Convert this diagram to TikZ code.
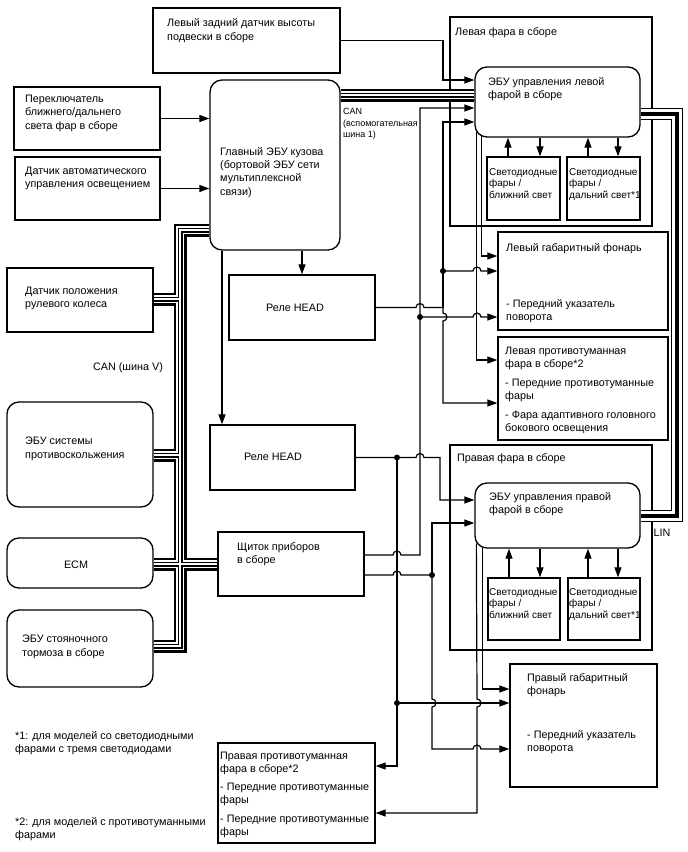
\documentclass[tikz,border=0pt]{standalone}
\usepackage{fontspec}
\setmainfont{Liberation Sans}
\usetikzlibrary{arrows.meta,fit}
\pgfdeclarelayer{bg}
\pgfdeclarelayer{bus}
\pgfsetlayers{bg,bus,main}
\begin{document}
\begin{tikzpicture}[x=1pt,y=-1pt,
 box/.style={draw,line width=1.3pt,inner sep=0pt},
 rbox/.style={box,rounded corners=12pt},
 lbl/.style={anchor=north west,inner sep=0pt,align=left,font=\fontsize{10.8}{13.3}\selectfont},
 ctr/.style={inner sep=0pt,font=\fontsize{10.8}{13.3}\selectfont},
 ledt/.style={lbl,font=\fontsize{10}{11.8}\selectfont},
 smallt/.style={lbl,font=\fontsize{9}{11.5}\selectfont},
 wire/.style={line width=1.2pt},
 arr/.style={wire,-{Triangle[length=10pt,width=7pt]}},
 canA/.style={line width=13pt},
 canB/.style={line width=8pt,white},
 canC/.style={line width=5pt},
 canD/.style={line width=2.5pt,white},
 linA/.style={line width=12pt},
 linB/.style={line width=9.5pt,white},
 linC/.style={line width=4pt},
 dot/.style={fill,radius=3pt}
 ]
\useasboundingbox (0,0) rectangle (688,852);

% outer headlight boxes
\begin{pgfonlayer}{bg}
\fill[white] (0,0) rectangle (688,852);
\node[box,fit={(450,17)(652,226)}] (lhead) {};
\node[box,fit={(450,445)(652,650)}] (rhead) {};
\end{pgfonlayer}

% boxes
\node[box,fit={(153,8)(340,73)}] (sensorH) {};
\node[box,fit={(14,87)(160,150)}] (sw) {};
\node[box,fit={(15,157)(160,220)}] (autosens) {};
\node[rbox,fit={(210,80)(340,250)}] (main) {};
\node[box,fit={(7,268)(153,332)}] (steer) {};
\node[box,fit={(229,275)(375,340)}] (relay1) {};
\node[rbox,fit={(7,402)(153,507)}] (abs) {};
\node[box,fit={(210,425)(355,490)}] (relay2) {};
\node[rbox,fit={(7,538)(153,588)}] (ecm) {};
\node[box,fit={(218,532)(364,596)}] (meter) {};
\node[rbox,fit={(7,610)(153,687)}] (park) {};
\node[box,fit={(218,743)(375,843)}] (rfog) {};
\node[rbox,fit={(475,67)(640,137)}] (lecu) {};
\node[box,fit={(487,157)(560,220)}] (lledA) {};
\node[box,fit={(567,157)(640,220)}] (lledB) {};
\node[box,fit={(498,232)(668,330)}] (lpos) {};
\node[box,fit={(498,337)(668,440)}] (lfog) {};
\node[rbox,fit={(475,483)(640,548)}] (recu) {};
\node[box,fit={(488,578)(560,640)}] (rledA) {};
\node[box,fit={(568,578)(640,640)}] (rledB) {};
\node[box,fit={(510,664)(657,787)}] (rpos) {};

% texts
\node[lbl] (t1) at (167,18.5) {Левый задний датчик высоты\\подвески в сборе};
\node[lbl] (t2) at (25,95) {Переключатель\\ближнего/дальнего\\света фар в сборе};
\node[lbl] (t3) at (25,167) {Датчик автоматического\\управления освещением};
\node[lbl] (t4) at (220,147) {Главный ЭБУ кузова\\(бортовой ЭБУ сети\\мультиплексной\\связи)};
\node[smallt] (t5) at (343,108.5) {CAN\\(вспомогательная\\шина 1)};
\node[lbl] (t6) at (25,287) {Датчик положения\\рулевого колеса};
\node[ctr] (t7) at (295,308) {Реле HEAD};
\node[ctr] (t8) at (128,368) {CAN (шина V)};
\node[lbl] (t9) at (25,437) {ЭБУ системы\\противоскольжения};
\node[ctr] (t10) at (273,457) {Реле HEAD};
\node[ctr] (t11) at (76,565) {ECM};
\node[lbl] (t12) at (237,542) {Щиток приборов\\в сборе};
\node[lbl] (t13) at (22,635) {ЭБУ стояночного\\тормоза в сборе};
\node[lbl] (t14) at (15,731) {*1: для моделей со светодиодными\\фарами с тремя светодиодами};
\node[lbl] (t15) at (15,817) {*2: для моделей с противотуманными\\фарами};
\node[lbl,font=\fontsize{10.8}{12.5}\selectfont] (t16) at (220,752) {Правая противотуманная\\фара в сборе*2};
\node[lbl,font=\fontsize{10.8}{12.5}\selectfont] (t17) at (220,783) {- Передние противотуманные\\фары};
\node[lbl,font=\fontsize{10.8}{12.5}\selectfont] (t18) at (220,815) {- Передние противотуманные\\фары};
\node[lbl] (t19) at (455,27) {Левая фара в сборе};
\node[lbl] (t20) at (488,77) {ЭБУ управления левой\\фарой в сборе};
\node[ledt] (t21) at (489,168) {Светодиодные\\фары /\\ближний свет};
\node[ledt] (t22) at (569,168) {Светодиодные\\фары /\\дальний свет*1};
\node[lbl] (t23) at (506,243) {Левый габаритный фонарь};
\node[lbl] (t24) at (506,299) {- Передний указатель\\поворота};
\node[lbl] (t25) at (505,347) {Левая противотуманная\\фара в сборе*2};
\node[lbl] (t26) at (505,379) {- Передние противотуманные\\фары};
\node[lbl] (t27) at (505,411) {- Фара адаптивного головного\\бокового освещения};
\node[lbl] (t28) at (457,453) {Правая фара в сборе};
\node[lbl] (t29) at (489,492) {ЭБУ управления правой\\фарой в сборе};
\node[ledt] (t30) at (489,588) {Светодиодные\\фары /\\ближний свет};
\node[ledt] (t31) at (569,588) {Светодиодные\\фары /\\дальний свет*1};
\node[lbl] (t32) at (527,673) {Правый габаритный\\фонарь};
\node[lbl] (t33) at (527,730) {- Передний указатель\\поворота};
\node[ctr] (t34) at (662,533) {LIN};

% buses
\begin{pgfonlayer}{bus}
\foreach \s in {canA,canB,canC,canD}{
  \draw[\s] (main.west |- 0,230) -- (180,230) -- (180,646) -- (park.east |- 0,646);
  \draw[\s] (steer.east |- 0,299) -- (180,299);
  \draw[\s] (abs.east |- 0,455) -- (180,455);
  \draw[\s] (ecm.east |- 0,564) -- (meter.west |- 0,564);
  \draw[\s] (main.east |- 0,95) -- (lecu.west |- 0,95);
}
\foreach \s in {linA,linB,linC}{
  \draw[\s] (lecu.east |- 0,114) -- (677,114) -- (677,516) -- (recu.east |- 0,516);
}
\end{pgfonlayer}

% inputs to main and left ECU
\draw[arr] (sensorH.east) -| (443,80) -- (lecu.west |- 0,80);
\draw[arr] (sw.east) -- (main.west |- sw.east);
\draw[arr] (autosens.east) -- (main.west |- autosens.east);
\draw[arr] (main.south -| 302,0) -- (relay1.north -| 302,0);
\draw[arr] (main.south -| 222,0) -- (relay2.north -| 222,0);

% relay 1 output
\coordinate (J1) at (443,307.5);
\draw[wire] (relay1.east) -- (416,307.5) arc[start angle=180,end angle=0,radius=4pt] -- (J1);
\draw[arr] (J1) |- (lecu.west |- 0,122);
\draw[arr] (J1) -- (443,313) arc[start angle=90,end angle=-90,radius=4pt] -- (443,403) -- (lfog.west |- 0,403);
\fill[dot] (443,271) circle;
\draw[arr] (443,271) -- (473,271) arc[start angle=180,end angle=0,radius=4pt] -- (lpos.west |- 0,271);

% meter upper output / x420 line
\coordinate (J2) at (420,555);
\draw[arr] (meter.east |- 0,555) -- (393,555) arc[start angle=180,end angle=0,radius=4pt] -- (J2) -- (420,108) -- (lecu.west |- 0,108);
\fill[dot] (420,317) circle;
\draw[arr] (420,317) -- (473,317) arc[start angle=180,end angle=0,radius=4pt] -- (lpos.west |- 0,317);

% left ECU lower lines
\draw[arr] ([xshift=7pt,yshift=1.2pt]lecu.south west) |- (lpos.west |- 0,256);
\draw[arr] ([xshift=2pt,yshift=5.4pt]lecu.south west) |- (lfog.west |- 0,360);

% left LED arrows
\draw[arr] (lledA.north -| 508,0) -- (lecu.south -| 508,0);
\draw[arr] (lecu.south -| 540,0) -- (lledA.north -| 540,0);
\draw[arr] (lledB.north -| 588,0) -- (lecu.south -| 588,0);
\draw[arr] (lecu.south -| 618,0) -- (lledB.north -| 618,0);

% relay 2 output
\coordinate (J3) at (397,457.5);
\draw[arr] (relay2.east) -- (416,457.5) arc[start angle=180,end angle=0,radius=4pt] -- (440,457.5) |- (recu.west |- 0,500);
\fill[dot] (J3) circle;
\draw[arr] (J3) -- (397,766) -- (rfog.east |- 0,766);
\fill[dot] (397,703) circle;
\draw[arr] (397,703) -- (rpos.west |- 0,703);

% meter lower output
\coordinate (J4) at (432,575);
\draw[wire] (meter.east |- 0,575) -- (393,575) arc[start angle=180,end angle=0,radius=4pt] -- (J4);
\fill[dot] (J4) circle;
\draw[arr] (J4) |- (recu.west |- 0,523);
\draw[arr] (J4) -- (432,699) arc[start angle=90,end angle=-90,radius=4pt] -- (432,749) -- (473,749) arc[start angle=180,end angle=0,radius=4pt] -- (rpos.west |- 0,749);

% right ECU lower lines
\draw[arr] ([xshift=8pt,yshift=0.8pt]recu.south west) |- (rpos.west |- 0,689);
\draw[arr] ([xshift=2pt,yshift=5.4pt]recu.south west) -- (477,699) arc[start angle=90,end angle=-90,radius=4pt] -- (477,813) -- (rfog.east |- 0,813);

% right LED arrows
\draw[arr] (rledA.north -| 509,0) -- (recu.south -| 509,0);
\draw[arr] (recu.south -| 540,0) -- (rledA.north -| 540,0);
\draw[arr] (rledB.north -| 588,0) -- (recu.south -| 588,0);
\draw[arr] (recu.south -| 618,0) -- (rledB.north -| 618,0);
\end{tikzpicture}
\end{document}
